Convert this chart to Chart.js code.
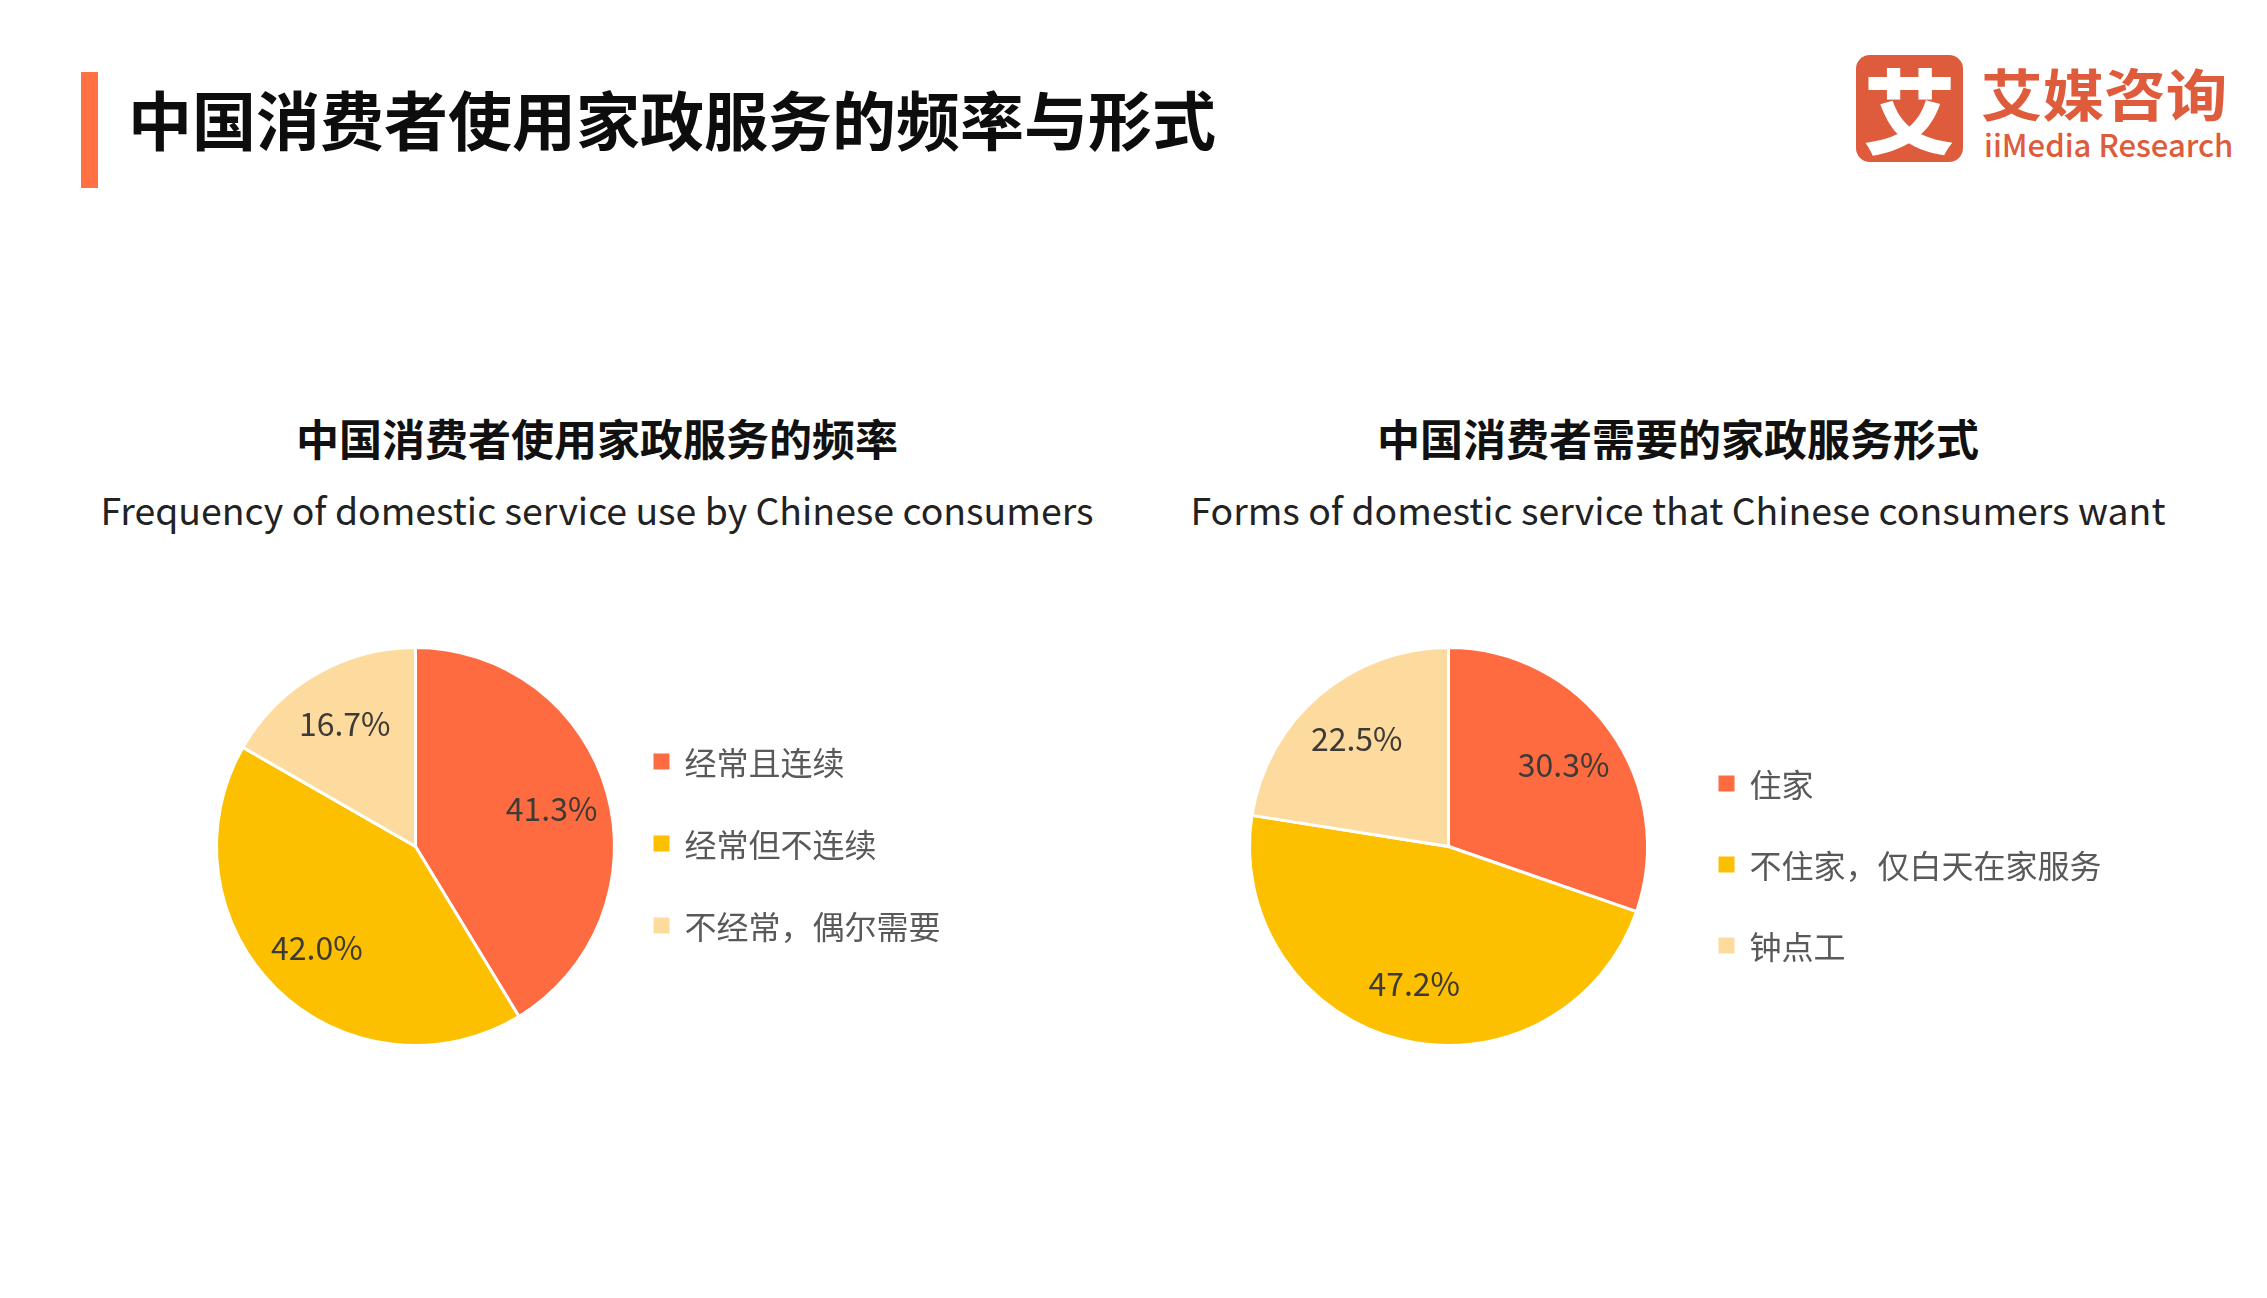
<!DOCTYPE html>
<html>
<head>
<meta charset="utf-8">
<script src="https://cdn.jsdelivr.net/npm/chart.js@4.4.1/dist/chart.umd.min.js"></script>
<style>
  html, body { margin: 0; padding: 0; background: #ffffff; }
  body { width: 2267px; height: 1298px; position: relative; overflow: hidden;
         font-family: "Noto Sans CJK SC", "Noto Sans", sans-serif; }
  .abs { position: absolute; white-space: nowrap; }
  #bar { left: 81px; top: 72px; width: 17px; height: 116px; background: #FF7043; }
  #mainTitle { left: 128px; top: 77px; height: 80px; line-height: 80px; font-size: 64px; font-weight: 700; color: #0d0d0d; }
  #logoBox { left: 1856px; top: 55px; width: 107px; height: 107px; border-radius: 14px; background: #DE5B3C;
             color: #fff; font-size: 92px; font-weight: 900; text-align: center; line-height: 104px; }
  #logoCn { left: 1981px; top: 61px; height: 62px; line-height: 62px; font-size: 56px; font-weight: 700; color: #DE5B3C;
            transform-origin: left center; transform: scaleX(1.1); }
  #logoEn { left: 1984px; top: 124px; height: 40px; line-height: 40px; font-size: 31px; font-weight: 500; color: #DE5B3C; }
  .hCn { height: 60px; line-height: 60px; font-size: 43px; font-weight: 700; color: #111; text-align: center; }
  .hEn { height: 50px; line-height: 50px; font-size: 37.4px; font-weight: 400; color: #222; text-align: center; }
  canvas { position: absolute; }
</style>
</head>
<body>
<div id="bar" class="abs"></div>
<div id="mainTitle" class="abs">中国消费者使用家政服务的频率与形式</div>
<div id="logoBox" class="abs">艾</div>
<div id="logoCn" class="abs">艾媒咨询</div>
<div id="logoEn" class="abs">iiMedia Research</div>

<div class="abs hCn" style="left:0; width:1194px; top:407px;">中国消费者使用家政服务的频率</div>
<div class="abs hEn" style="left:0; width:1194px; top:484px;">Frequency of domestic service use by Chinese consumers</div>
<div class="abs hCn" style="left:1090px; width:1176px; top:407px;">中国消费者需要的家政服务形式</div>
<div class="abs hEn" style="left:1090px; width:1176px; top:484px;">Forms of domestic service that Chinese consumers want</div>

<canvas id="c1" width="800" height="500" style="left:200px; top:600px; width:800px; height:500px;"></canvas>
<canvas id="c2" width="950" height="500" style="left:1230px; top:600px; width:950px; height:500px;"></canvas>

<script>
// ---- data ----
const freqLabels = ['经常且连续', '经常但不连续', '不经常，偶尔需要'];
const freqValues = [41.3, 42.0, 16.7];
const formLabels = ['住家', '不住家，仅白天在家服务', '钟点工'];
const formValues = [30.3, 47.2, 22.5];
const sliceColors = ['#FF6B40', '#FCC000', '#FDDB9E'];

const FONT = '"Noto Sans CJK SC", "Noto Sans", sans-serif';

// value labels inside slices
const sliceLabelPlugin = {
  id: 'sliceLabels',
  afterDatasetsDraw(chart, args, opts) {
    const ctx = chart.ctx;
    const meta = chart.getDatasetMeta(0);
    const values = chart.data.datasets[0].data;
    ctx.save();
    ctx.font = `400 ${opts.size}px ${FONT}`;
    ctx.fillStyle = opts.color;
    ctx.textAlign = 'center';
    ctx.textBaseline = 'middle';
    meta.data.forEach((arc, i) => {
      const mid = (arc.startAngle + arc.endAngle) / 2;
      const r = arc.outerRadius * opts.ratio;
      ctx.fillText(values[i].toFixed(1) + '%', arc.x + Math.cos(mid) * r, arc.y + Math.sin(mid) * r);
    });
    ctx.restore();
  }
};

// legend drawn beside the pie
const sideLegendPlugin = {
  id: 'sideLegend',
  afterDraw(chart, args, opts) {
    const ctx = chart.ctx;
    const meta = chart.getDatasetMeta(0);
    const arc = meta.data[0];
    const cx = arc.x, cy = arc.y;
    const labels = chart.data.labels;
    const colors = chart.data.datasets[0].backgroundColor;
    ctx.save();
    ctx.font = `400 ${opts.size}px ${FONT}`;
    ctx.textBaseline = 'middle';
    ctx.textAlign = 'left';
    labels.forEach((lab, i) => {
      const y = cy + opts.startY + i * opts.gap;
      ctx.fillStyle = colors[i];
      ctx.fillRect(cx + opts.boxX, y - opts.box / 2, opts.box, opts.box);
      ctx.fillStyle = opts.color;
      ctx.fillText(lab, cx + opts.textX, y + 1);
    });
    ctx.restore();
  }
};

function makePie(id, labels, values, padding, legendOpts) {
  return new Chart(document.getElementById(id), {
    type: 'pie',
    data: {
      labels: labels,
      datasets: [{
        data: values,
        backgroundColor: sliceColors,
        borderColor: '#ffffff',
        borderWidth: 3
      }]
    },
    options: {
      responsive: false,
      animation: false,
      layout: { padding: padding },
      plugins: {
        legend: { display: false },
        tooltip: { enabled: false },
        sliceLabels: { size: 32, color: '#3e3a36', ratio: 0.71 },
        sideLegend: legendOpts
      }
    },
    plugins: [sliceLabelPlugin, sideLegendPlugin]
  });
}

makePie('c1', freqLabels, freqValues,
  { left: 15, top: 46, right: 384, bottom: 53 },
  { size: 32, color: '#595959', box: 16, boxX: 238, textX: 269, startY: -85, gap: 82 });

makePie('c2', formLabels, formValues,
  { left: 18, top: 46, right: 531, bottom: 53 },
  { size: 32, color: '#595959', box: 16, boxX: 270, textX: 301, startY: -63, gap: 81 });
</script>
</body>
</html>
